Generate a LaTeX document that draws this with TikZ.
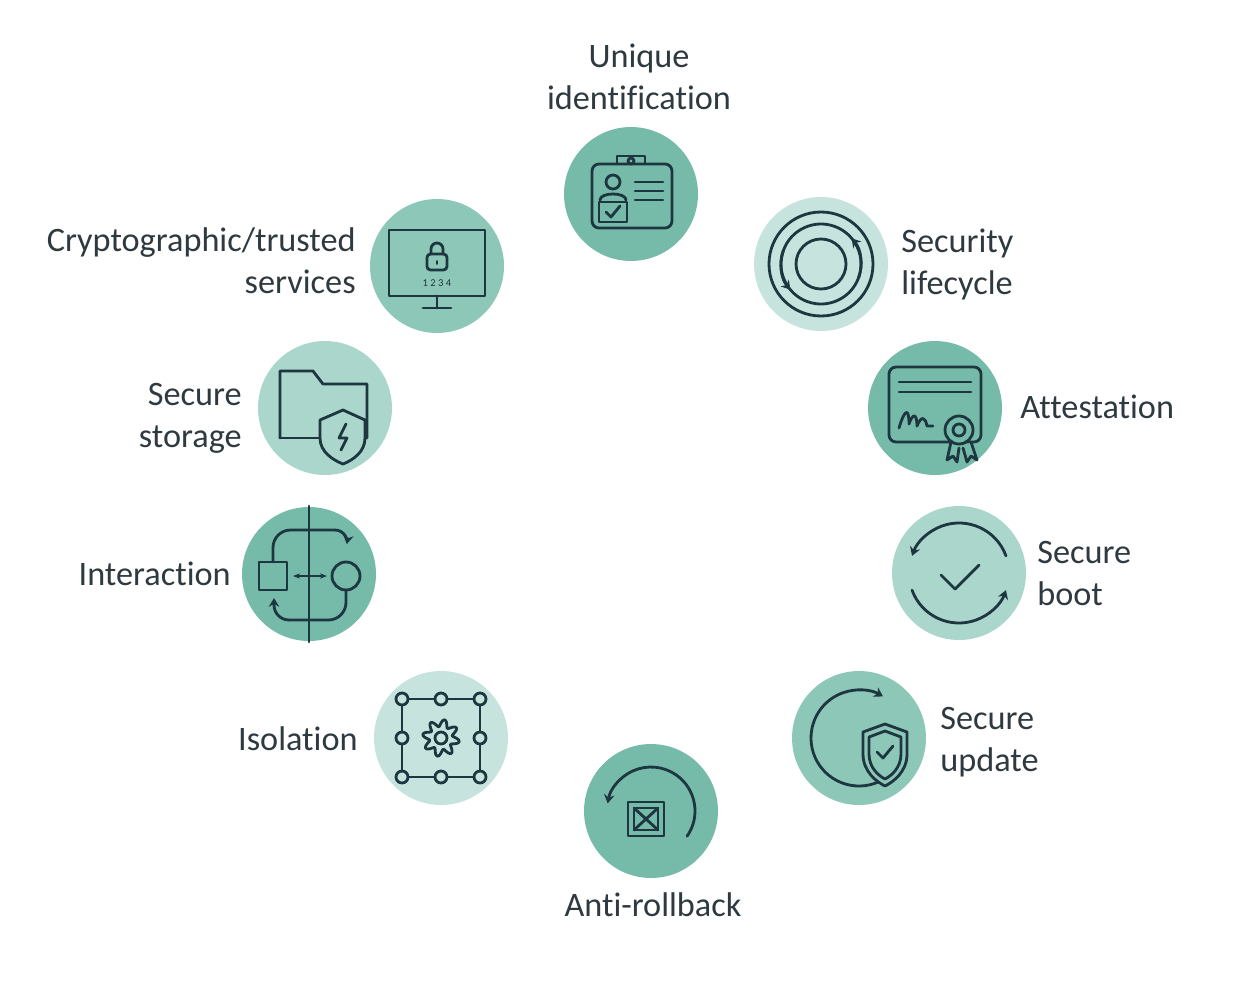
\documentclass[tikz,border=0pt]{standalone}
\usepackage{fontspec}
\setmainfont{Carlito}[Ligatures={NoCommon}]
\usetikzlibrary{arrows.meta}
\definecolor{ink}{HTML}{1E3640}
\definecolor{cA}{HTML}{76BBAA}
\definecolor{cB}{HTML}{8DC7B8}
\definecolor{cC}{HTML}{AAD6CB}
\definecolor{cD}{HTML}{C6E4DD}
\definecolor{txt}{HTML}{2E3A40}
\begin{document}
\begin{tikzpicture}[x=0.02cm,y=-0.02cm,
  disc/.style={circle,minimum size=2.68cm,inner sep=0pt},
  lab/.style={font=\fontsize{19.5}{23.8}\selectfont,text=txt,inner sep=0pt},
  ic/.style={draw=ink,line width=1.6pt,line cap=round,line join=round},
  arr/.style={ic,-{Stealth[length=5pt,width=6pt]}}]
\useasboundingbox (0,0) rectangle (1246,987);
% discs
\node[disc,fill=cA] (n1) at (631,194) {};
\node[disc,fill=cD] (n2) at (821,264) {};
\node[disc,fill=cA] (n3) at (935,408) {};
\node[disc,fill=cC] (n4) at (959,573) {};
\node[disc,fill=cB] (n5) at (859,738) {};
\node[disc,fill=cA] (n6) at (651,811) {};
\node[disc,fill=cD] (n7) at (441,738) {};
\node[disc,fill=cA] (n8) at (309,574) {};
\node[disc,fill=cC] (n9) at (325,408) {};
\node[disc,fill=cB] (n10) at (437,266) {};
% labels
\node[lab,align=center,anchor=base] (t1) at (639,109) {Unique\\identification};
\node[lab,align=left,anchor=base west] (t2) at (901,294) {Security\\lifecycle};
\node[lab,anchor=base west] (t3) at (1020,418) {Attestation};
\node[lab,align=left,anchor=base west] (t4) at (1037,605) {Secure\\boot};
\node[lab,align=left,anchor=base west] (t5) at (940,771) {Secure\\update};
\node[lab,anchor=base] (t6) at (653,916) {Anti-rollback};
\node[lab,anchor=base east] (t7) at (358,750) {Isolation};
\node[lab,anchor=base east] (t8) at (231,585) {Interaction};
\node[lab,align=right,anchor=base east] (t9) at (242,447) {Secure\\storage};
\node[lab,align=right,anchor=base east] (t10) at (356,293) {Cryptographic/trusted\\services};
% icon 1: id badge
\begin{scope}[shift={(631,194)}]
\draw[ic,rounded corners=4pt] (-39,-30) rectangle (41,34);
\draw[ic] (-14,-30) -- (-14,-38) -- (14,-38) -- (14,-30);
\draw[ic] (0,-33) circle (3);
\draw[ic] (-18,-12) circle (7);
\draw[ic] (-31,6) .. controls (-31,-2) and (-5,-2) .. (-5,6);
\draw[ic] (-32,8) rectangle (-4,28);
\draw[ic] (-25,18) -- (-20,23) -- (-11,12);
\draw[ic] (4,-12) -- (32,-12) (4,-3) -- (32,-3) (4,6) -- (32,6);
\end{scope}
% icon 2: lifecycle
\begin{scope}[shift={(821,264)}]
\draw[ic] (0,0) circle (52);
\draw[arr] (200:40) arc (200:-40:40);
\draw[arr] (20:40) arc (20:-220:40) ;
\draw[ic,fill=cD] (0,0) circle (25);
\end{scope}
% icon 3: certificate
\begin{scope}[shift={(935,408)}]
\draw[ic,rounded corners=4pt] (-46,-41) rectangle (46,34);
\draw[ic] (-36,-26) -- (36,-26) (-36,-16) -- (36,-16);
\draw[ic] (-36,20) .. controls (-30,0) and (-26,0) .. (-26,16) .. controls (-22,4) and (-18,6) .. (-18,18) .. controls (-14,8) and (-10,8) .. (-8,18) -- (-2,18);
\draw[ic,fill=cA] (16,34) -- (12,52) -- (18,48) -- (22,54) -- (24,40);
\draw[ic,fill=cA] (28,40) -- (32,54) -- (36,48) -- (42,52) -- (36,34);
\draw[ic,fill=cA] (24,22) circle (14);
\draw[ic] (24,22) circle (6);
\end{scope}
% icon 4: secure boot
\begin{scope}[shift={(959,573)}]
\draw[arr] (-20:50) arc (-20:-160:50) ;
\draw[arr] (160:50) arc (160:20:50);
\draw[ic] (-18,2) -- (-4,16) -- (20,-8);
\end{scope}
% icon 5: secure update
\begin{scope}[shift={(859,738)}]
\draw[arr] (10:48) arc (10:300:48);
\draw[ic,fill=cB] (4,-6) -- (26,-14) -- (48,-6) -- (48,16) .. controls (48,34) and (34,44) .. (26,48) .. controls (18,44) and (4,34) .. (4,16) -- cycle;
\draw[ic] (10,-1) -- (26,-7) -- (42,-1) -- (42,16) .. controls (42,30) and (32,38) .. (26,41) .. controls (20,38) and (10,30) .. (10,16) -- cycle;
\draw[ic] (18,14) -- (24,20) -- (34,8);
\end{scope}
% icon 6: anti-rollback
\begin{scope}[shift={(651,811)}]
\draw[arr] (35:44) arc (35:-170:44) ;
\draw[ic] (-23,-9) rectangle (13,25);
\draw[ic] (-17,-3) rectangle (7,19);
\draw[ic] (-17,-3) -- (7,19) (7,-3) -- (-17,19);
\end{scope}
% icon 7: isolation
\begin{scope}[shift={(441,738)}]
\draw[ic] (-39,-39) rectangle (39,39);
\foreach \p in {(-39,-39),(0,-39),(39,-39),(-39,0),(39,0),(-39,39),(0,39),(39,39)}
  \draw[ic,fill=cD] \p circle (6);
\draw[ic] (0,0) circle (6);
\draw[ic] plot[domain=0:360,samples=97,smooth cycle] ({(15+3.5*sin(8*\x))*cos(\x)},{(15+3.5*sin(8*\x))*sin(\x)});
\end{scope}
% icon 8: interaction
\begin{scope}[shift={(309,574)}]
\draw[ic] (0,-68) -- (0,68);
\draw[ic] (-50,-12) rectangle (-22,16);
\draw[ic] (37,2) circle (14);
\draw[ic,{Stealth[length=4pt]}-{Stealth[length=4pt]}] (-16,2) -- (18,2);
\draw[ic,rounded corners=10pt] (-36,-12) -- (-36,-44) -- (26,-44);
\draw[arr] (26,-44) arc (-90:10:12);
\draw[ic,rounded corners=10pt] (37,16) -- (37,46) -- (-20,46);
\draw[arr] (-20,46) arc (90:180:15) -- (-35,24);
\end{scope}
% icon 9: secure storage
\begin{scope}[shift={(325,408)}]
\draw[ic] (-45,30) -- (-45,-37) -- (-12,-37) -- (-2,-24) -- (42,-24) -- (42,30) -- (0,30);
\draw[ic] (-45,30) -- (-5,30);
\draw[ic,fill=cC] (-5,12) -- (18,2) -- (40,12) -- (40,30) .. controls (40,44) and (28,52) .. (18,56) .. controls (8,52) and (-5,44) .. (-5,30) -- cycle;
\draw[ic] (21,16) -- (14,30) -- (22,30) -- (16,42);
\end{scope}
% icon 10: monitor
\begin{scope}[shift={(437,266)}]
\draw[ic] (-48,-36) rectangle (48,30);
\draw[ic] (0,30) -- (0,42) (-14,42) -- (14,42);
\draw[ic,rounded corners=2pt] (-10,-12) rectangle (10,4);
\draw[ic] (-6,-12) -- (-6,-17) arc (180:360:6) -- (6,-12);
\draw[ic,line width=1pt] (0,-5) -- (0,-2);
\node[font=\fontsize{6}{7}\selectfont,text=ink] (code) at (0,17) {1 2 3 4};
\end{scope}
\end{tikzpicture}
\end{document}
